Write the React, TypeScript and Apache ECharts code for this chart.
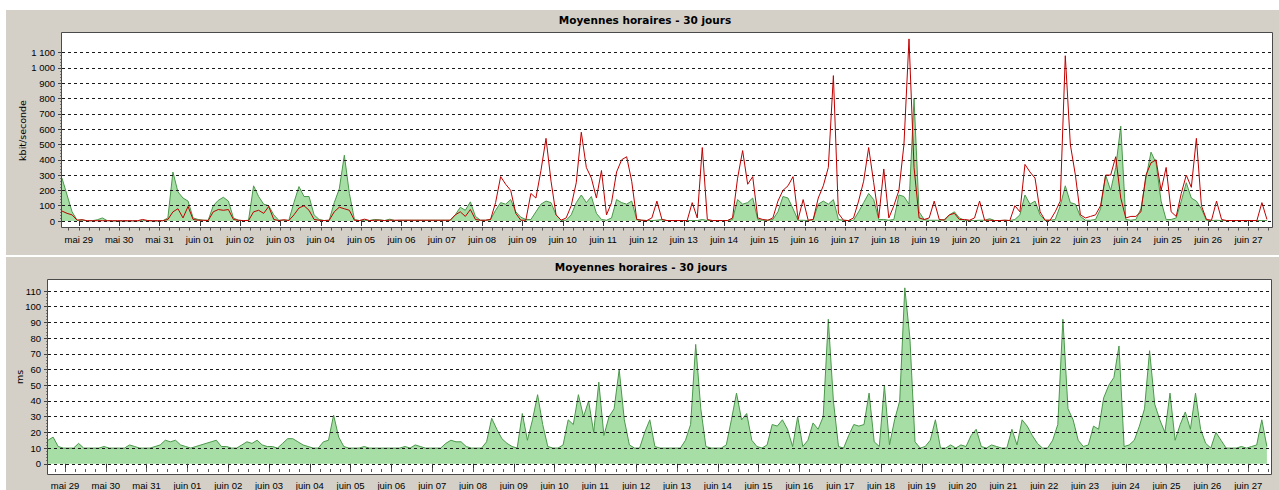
import React, { useEffect, useRef } from "react";
import * as echarts from "echarts";

const TITLE = "Moyennes horaires - 30 jours";
const Y_NAME_TOP = "kbit/seconde";
const Y_NAME_BOTTOM = "ms";
const STEP_HOURS = 3;
const TOTAL_HOURS = 720;
const FIRST_TICK_HOUR = 10;

const dayLabels = [
  "mai 29", "mai 30", "mai 31", "juin 01", "juin 02", "juin 03", "juin 04", "juin 05",
  "juin 06", "juin 07", "juin 08", "juin 09", "juin 10", "juin 11", "juin 12", "juin 13",
  "juin 14", "juin 15", "juin 16", "juin 17", "juin 18", "juin 19", "juin 20", "juin 21",
  "juin 22", "juin 23", "juin 24", "juin 25", "juin 26", "juin 27",
];

// kbit/s, green area (3-hour steps)
const trafficIn = [
  280, 170, 60, 5, 8, 0, 2, 8, 20, 2,
  0, 0, 0, 0, 0, 0, 2, 2, 0, 0,
  2, 20, 320, 190, 150, 130, 20, 10, 5, 5,
  100, 135, 155, 130, 20, 5, 2, 5, 230, 160,
  110, 100, 40, 5, 5, 5, 120, 225, 160, 160,
  40, 10, 3, 5, 120, 210, 430, 180, 10, 3,
  5, 3, 10, 8, 3, 12, 3, 5, 5, 5,
  5, 5, 5, 5, 5, 5, 5, 5, 40, 90,
  70, 125, 30, 5, 5, 10, 70, 120, 110, 140,
  60, 25, 10, 10, 60, 110, 130, 120, 40, 5,
  5, 40, 120, 170, 120, 160, 50, 10, 5, 20,
  140, 120, 110, 130, 10, 5, 3, 3, 5, 10,
  3, 3, 3, 3, 3, 3, 3, 10, 3, 3,
  3, 3, 3, 10, 140, 110, 120, 150, 10, 5,
  5, 10, 60, 160, 150, 80, 5, 5, 3, 10,
  110, 130, 110, 140, 10, 5, 3, 5, 60, 120,
  180, 140, 10, 10, 5, 10, 170, 160, 110, 800,
  60, 10, 5, 5, 5, 10, 40, 60, 20, 5,
  3, 3, 5, 5, 15, 3, 3, 5, 3, 10,
  40, 170, 110, 130, 40, 5, 5, 10, 100, 230,
  120, 110, 30, 5, 5, 10, 80, 300, 200, 350,
  620, 10, 5, 10, 80, 280, 450, 380, 130, 10,
  10, 20, 130, 250, 150, 130, 80, 5, 3, 5,
  3, 3, 3, 3, 3, 3, 3, 3, 3, 3,
];

// kbit/s, red line (3-hour steps)
const trafficOut = [
  65, 50, 40, 5, 8, 2, 2, 2, 2, 2,
  2, 2, 2, 2, 2, 2, 10, 3, 2, 2,
  2, 10, 60, 80, 20, 95, 10, 5, 5, 3,
  60, 75, 70, 75, 10, 5, 3, 3, 60, 70,
  50, 95, 10, 3, 8, 3, 40, 85, 100, 70,
  10, 5, 3, 5, 60, 90, 80, 70, 5, 3,
  12, 3, 5, 5, 3, 5, 5, 5, 5, 5,
  5, 5, 5, 5, 5, 5, 5, 5, 40, 60,
  30, 75, 10, 5, 5, 10, 120, 290, 240, 200,
  50, 5, 5, 180, 150, 330, 540, 260, 40, 5,
  20, 100, 250, 580, 350, 280, 150, 330, 40, 120,
  320, 400, 420, 260, 10, 5, 3, 20, 130, 10,
  3, 3, 3, 3, 3, 120, 20, 480, 10, 3,
  3, 3, 3, 20, 280, 460, 240, 290, 20, 10,
  5, 20, 130, 200, 230, 290, 10, 140, 5, 10,
  150, 230, 350, 950, 50, 5, 3, 20, 130, 260,
  480, 250, 20, 340, 20, 100, 200, 500, 1190, 350,
  20, 10, 20, 130, 10, 5, 40, 50, 10, 10,
  5, 20, 130, 5, 5, 3, 3, 5, 3, 100,
  60, 370, 320, 280, 60, 5, 5, 60, 130, 1080,
  500, 300, 40, 20, 30, 40, 100, 300, 300, 420,
  150, 20, 30, 30, 60, 300, 380, 400, 200, 350,
  60, 30, 180, 300, 220, 540, 100, 10, 5, 130,
  10, 3, 3, 3, 3, 3, 3, 3, 120, 10,
];

// ms, green area (3-hour steps)
const latencyMs = [
  15, 17, 11, 10, 10, 10, 13, 10, 10, 10,
  10, 11, 10, 10, 10, 10, 12, 11, 10, 10,
  10, 11, 12, 15, 14, 15, 12, 11, 10, 11,
  12, 13, 14, 15, 11, 11, 10, 10, 12, 14,
  13, 15, 12, 11, 11, 10, 13, 16, 16, 14,
  12, 11, 10, 10, 14, 15, 31, 17, 11, 10,
  10, 10, 11, 10, 10, 10, 10, 10, 10, 10,
  11, 10, 12, 11, 10, 10, 10, 10, 13, 15,
  14, 14, 11, 10, 10, 10, 14, 29, 22, 16,
  13, 11, 10, 32, 15, 28, 44, 25, 11, 10,
  10, 12, 28, 25, 44, 30, 40, 20, 52, 18,
  30, 35, 60, 28, 12, 10, 10, 20, 28, 11,
  10, 10, 10, 10, 10, 15, 25, 76, 35, 11,
  10, 10, 10, 12, 28, 45, 28, 32, 15, 11,
  10, 12, 25, 24, 28, 22, 11, 30, 11, 15,
  26, 22, 30, 92, 40, 11, 10, 18, 25, 24,
  25, 45, 14, 11, 50, 12, 28, 40, 112, 80,
  14, 10, 11, 15, 28, 10, 10, 12, 10, 12,
  11, 18, 22, 11, 10, 12, 11, 10, 10, 22,
  12, 28, 24, 18, 13, 10, 10, 15, 25, 92,
  35, 28, 15, 11, 12, 24, 22, 42, 50, 55,
  75, 11, 12, 15, 24, 35, 72, 38, 28, 20,
  45, 15, 25, 33, 22, 45, 22, 13, 10, 20,
  15, 10, 10, 10, 11, 10, 11, 12, 28, 11,
];

const LABEL_FONT = "'Liberation Sans', Arial, sans-serif";
const TITLE_FONT = "'DejaVu Sans', sans-serif";
const PANEL_GRAY = "#d4d0c8";
const GREEN_FILL = "#a6dea6";
const GREEN_LINE = "#4c984c";
const RED_LINE = "#c00000";

const fmtKbit = (v: number) =>
  v >= 1000 ? `${Math.floor(v / 1000)} ${String(v % 1000).padStart(3, "0")}` : String(v);

const dayTicks = dayLabels.map((_, k) => FIRST_TICK_HOUR + 24 * k);
const minorTicks: number[] = [];
for (let h = FIRST_TICK_HOUR % 6; h <= TOTAL_HOURS; h += 6) minorTicks.push(h);

const toPoints = (arr: number[]) => arr.map((v, i) => [i * STEP_HOURS, v]);

function xAxesFor(gridIndex: number, offset: number, margin: number) {
  return [
    {
      type: "value",
      gridIndex,
      min: 0,
      max: TOTAL_HOURS,
      position: "bottom",
      offset,
      z: 3,
      axisLine: { show: false },
      splitLine: { show: false },
      axisTick: { show: true, customValues: dayTicks, length: 5, lineStyle: { color: "#333" } },
      axisLabel: {
        show: true,
        customValues: dayTicks,
        formatter: (v: number) => dayLabels[Math.round((v - FIRST_TICK_HOUR) / 24)] ?? "",
        margin,
        fontFamily: LABEL_FONT,
        fontSize: 9.5,
        color: "#000",
      },
    },
    {
      type: "value",
      gridIndex,
      min: 0,
      max: TOTAL_HOURS,
      position: "bottom",
      offset,
      z: 3,
      axisLine: { show: false },
      splitLine: { show: false },
      axisLabel: { show: false },
      axisTick: { show: true, customValues: minorTicks, length: 3, lineStyle: { color: "#555" } },
    },
  ];
}

function yAxisFor(gridIndex: number, max: number, interval: number, fmt: (v: number) => string) {
  return {
    type: "value",
    gridIndex,
    min: 0,
    max,
    interval,
    z: 3,
    axisLine: { show: false },
    axisTick: { show: true, length: 4, lineStyle: { color: "#444" } },
    minorTick: { show: true, splitNumber: 5, length: 2, lineStyle: { color: "#777" } },
    splitLine: { show: true, lineStyle: { color: "#1a1a1a", type: [3, 3], width: 1 } },
    axisLabel: { formatter: fmt, margin: 7, fontFamily: LABEL_FONT, fontSize: 9.5, color: "#000" },
  };
}

function textEl(text: string, x: number, y: number, font: string, rotation = 0) {
  return {
    type: "text",
    x,
    y,
    rotation,
    z: 5,
    style: {
      text,
      font,
      fill: "#000",
      align: "center",
      verticalAlign: "middle",
      textAlign: "center",
      textVerticalAlign: "middle",
    },
  };
}

export default function App() {
  const ref = useRef<HTMLDivElement>(null);

  useEffect(() => {
    document.body.style.margin = "0";
    document.body.style.overflow = "hidden";
    if (!ref.current) return;
    const chart = echarts.init(ref.current, undefined, { renderer: "svg" });

    const option = {
      animation: false,
      backgroundColor: "#ffffff",
      grid: [
        { left: 62, top: 52.67, width: 1210, height: 168.33, show: false },
        { left: 48, top: 291, width: 1224, height: 178.33, show: false },
      ],
      xAxis: [...xAxesFor(0, 6.5, 7), ...xAxesFor(1, 5.2, 11)],
      yAxis: [
        yAxisFor(0, 1100, 100, fmtKbit),
        yAxisFor(1, 110, 10, (v: number) => String(v)),
      ],
      series: [
        {
          type: "line",
          xAxisIndex: 0,
          yAxisIndex: 0,
          data: toPoints(trafficIn),
          symbol: "none",
          clip: false,
          z: 2,
          lineStyle: { color: GREEN_LINE, width: 1 },
          itemStyle: { color: GREEN_LINE },
          areaStyle: { color: GREEN_FILL, opacity: 1 },
        },
        {
          type: "line",
          xAxisIndex: 0,
          yAxisIndex: 0,
          data: toPoints(trafficOut),
          symbol: "none",
          clip: false,
          z: 4,
          lineStyle: { color: RED_LINE, width: 1 },
          itemStyle: { color: RED_LINE },
        },
        {
          type: "line",
          xAxisIndex: 2,
          yAxisIndex: 1,
          data: toPoints(latencyMs),
          symbol: "none",
          clip: false,
          z: 2,
          lineStyle: { color: GREEN_LINE, width: 1 },
          itemStyle: { color: GREEN_LINE },
          areaStyle: { color: GREEN_FILL, opacity: 1 },
        },
      ],
      graphic: {
        elements: [
          { type: "rect", z: -2, shape: { x: 6, y: 10, width: 1273, height: 245 }, style: { fill: PANEL_GRAY } },
          { type: "rect", z: -2, shape: { x: 6, y: 257, width: 1273, height: 233 }, style: { fill: PANEL_GRAY } },
          { type: "rect", z: -1, shape: { x: 61.5, y: 32.5, width: 1211, height: 195 }, style: { fill: "#ffffff" } },
          { type: "rect", z: -1, shape: { x: 47.5, y: 279.5, width: 1224, height: 195 }, style: { fill: "#ffffff" } },
          {
            type: "rect",
            z: 10,
            shape: { x: 61.5, y: 32.5, width: 1211, height: 195 },
            style: { fill: "none", stroke: "#4a4a4a", lineWidth: 1 },
          },
          {
            type: "rect",
            z: 10,
            shape: { x: 47.5, y: 279.5, width: 1224, height: 195 },
            style: { fill: "none", stroke: "#4a4a4a", lineWidth: 1 },
          },
          textEl(TITLE, 645, 20, `bold 10.5px ${TITLE_FONT}`),
          textEl(TITLE, 641, 267, `bold 10.5px ${TITLE_FONT}`),
          textEl(Y_NAME_TOP, 22, 130.5, `9.5px ${TITLE_FONT}`, Math.PI / 2),
          textEl(Y_NAME_BOTTOM, 19.5, 377, `9.5px ${TITLE_FONT}`, Math.PI / 2),
        ],
      },
    };

    chart.setOption(option as any);
    return () => chart.dispose();
  }, []);

  return <div ref={ref} style={{ width: 1279, height: 490 }} />;
}
